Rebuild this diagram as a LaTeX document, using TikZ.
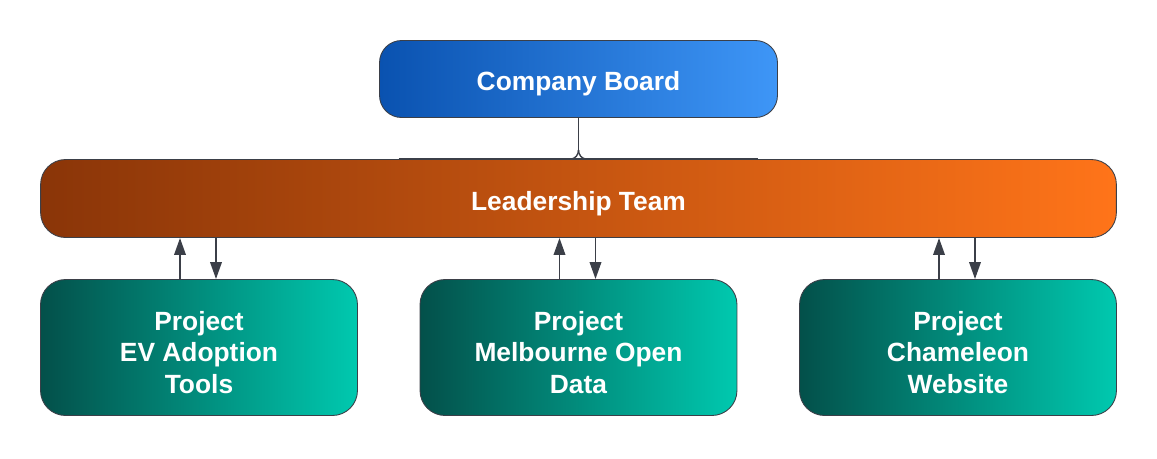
\documentclass[tikz,border=0pt]{standalone}
\usepackage{fontspec}
\setmainfont{Liberation Sans}
\usetikzlibrary{arrows.meta}
\definecolor{boardL}{HTML}{0A52B0}
\definecolor{boardR}{HTML}{3E96F7}
\definecolor{leadL}{HTML}{8A3508}
\definecolor{leadR}{HTML}{FF7419}
\definecolor{projL}{HTML}{03504A}
\definecolor{projR}{HTML}{00C9AF}
\definecolor{edge}{HTML}{3B3F48}
\newcommand{\strutup}{\rule{0pt}{16.5pt}}
\tikzset{
	box/.style={draw=edge, line width=0.5pt, text=white,
		font=\fontsize{15}{18}\selectfont\bfseries, align=center,
		inner sep=0pt},
	link/.style={draw=edge, line width=1.1pt,
		-{Triangle[length=0.34cm, width=0.23cm]}},
}

\begin{document}
\begin{tikzpicture}[x=0.02cm, y=-0.02cm]
	\useasboundingbox (0,0) rectangle (1157,458);
	\node [box, rounded corners=0.44cm, left color=boardL, right color=boardR,
		minimum width=7.96cm, minimum height=1.54cm] (1) at (578.5,79)
		{\strutup Company Board};
	\node [box, rounded corners=0.5cm, left color=leadL, right color=leadR,
		minimum width=21.52cm, minimum height=1.56cm] (2) at (578.5,198.5)
		{\strutup Leadership Team};
	\node [box, rounded corners=0.5cm, left color=projL, right color=projR,
		minimum width=6.34cm, minimum height=2.72cm] (3) at (199,347.5)
		{\strutup Project\\EV Adoption\\Tools};
	\node [box, rounded corners=0.5cm, left color=projL, right color=projR,
		minimum width=6.34cm, minimum height=2.72cm] (4) at (578.5,347.5)
		{\strutup Project\\Melbourne Open\\Data};
	\node [box, rounded corners=0.5cm, left color=projL, right color=projR,
		minimum width=6.34cm, minimum height=2.72cm] (5) at (958,347.5)
		{\strutup Project\\Chameleon\\Website};
	% board to leadership
	\coordinate (6) at (578.5,150);
	\draw [draw=edge, line width=0.8pt] (1.south) -- (6);
	\draw [draw=edge, line width=0.8pt] (6) to [out=-90, in=0] ([xshift=-0.16cm]2.north);
	\draw [draw=edge, line width=0.8pt] (6) to [out=-90, in=180] ([xshift=0.16cm]2.north);
	\draw [draw=edge, line width=1pt] ([xshift=-3.6cm]2.north) -- ([xshift=3.6cm]2.north);
	% leadership to projects
	\foreach \p in {3,4,5} {
		\draw [link] ([xshift=-0.38cm]\p.north) -- ([xshift=-0.38cm]\p.north |- 2.south);
		\draw [link] ([xshift=0.34cm]\p.north |- 2.south) -- ([xshift=0.34cm]\p.north);
	}
\end{tikzpicture}
\end{document}
